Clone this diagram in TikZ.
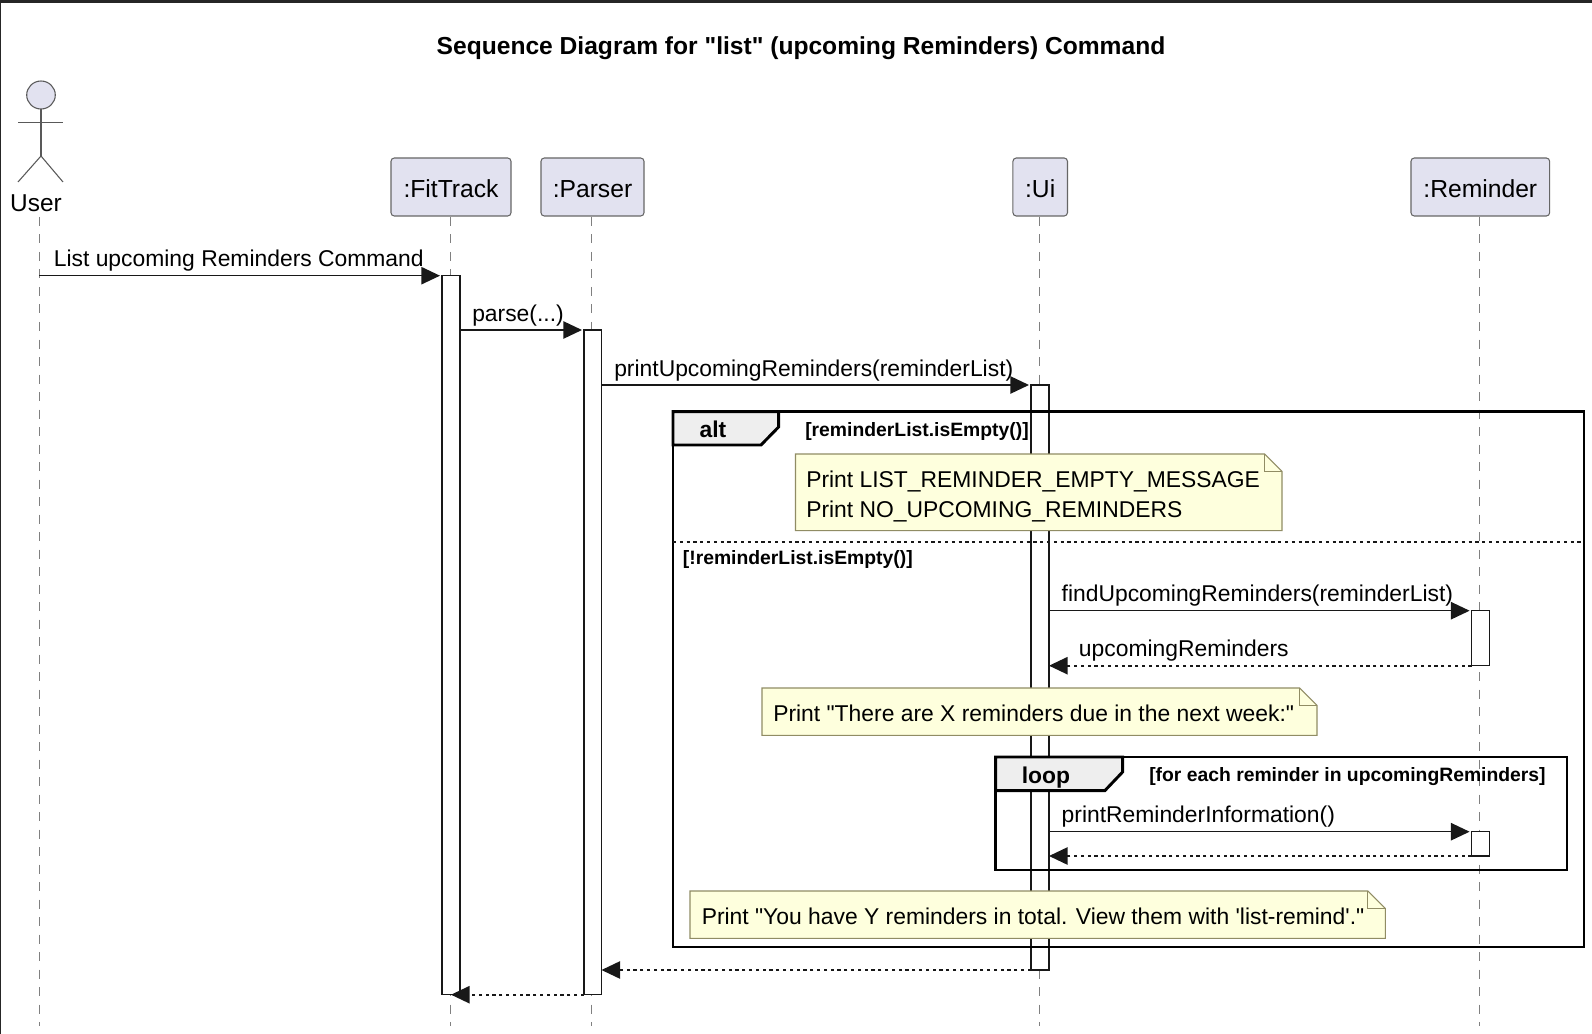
\documentclass[tikz,border=0pt]{standalone}
\usepackage{fontspec}
\defaultfontfeatures[\rmfamily]{}
\setmainfont{Liberation Sans}
\usetikzlibrary{arrows.meta,calc,fit,positioning}
\definecolor{partfill}{HTML}{E2E2F0}
\definecolor{notefill}{HTML}{FEFFDD}
\definecolor{inkdark}{HTML}{181818}
\definecolor{tabfill}{HTML}{EEEEEE}
\tikzset{participant/.style={
            draw=gray!80!black,
            fill=partfill,
            line width=0.8pt,
            rounded corners=2.5pt,
            inner sep=0pt,
            minimum height=43.5pt,
            text height=15.4pt,
            text depth=0pt,
            font=\fontsize{18.5}{18}\selectfont
        },
        lifeline/.style={
            draw=gray,
            line width=0.7pt,
            dash pattern=on 6.75pt off 6.375pt
        },
        activ/.style={
            draw=inkdark,
            fill=white,
            line width=1.1pt,
            inner sep=0pt,
            outer sep=0pt
        },
        msg/.style={
            draw=inkdark,
            line width=1.1pt,
            -{Triangle[length=14pt,width=13pt]},
            shorten >=1.5pt
        },
        reply/.style={
            msg,
            line width=1.3pt,
            shorten >=0pt,
            dash pattern=on 2.4pt off 2.7pt
        },
        label/.style={
            anchor=base west,
            inner sep=0pt,
            font=\fontsize{17.15}{18}\selectfont
        },
        guard/.style={
            anchor=base west,
            inner sep=0pt,
            font=\fontsize{14.5}{15.2}\selectfont\bfseries
        },
        tag/.style={
            anchor=base,
            inner sep=0pt,
            font=\fontsize{17.15}{18}\selectfont\bfseries
        },
        frame/.style={
            draw=black,
            line width=2.2pt,
            inner sep=0pt,
            outer sep=0pt
        },
        tab/.style={
            draw=black,
            fill=tabfill,
            line width=2.2pt
        },
        notebox/.style={
            draw=none,
            inner sep=0pt,
            outer sep=0pt
        },
        notepen/.style={
            draw=gray!70!olive,
            fill=notefill,
            line width=0.8pt
        },
        actor/.style={
            draw=gray!70!black,
            line width=0.8pt
        }
    }
% outline and fold of a note, read off its (empty) node
\newcommand{\notefold}[1]{
    \draw[notepen] (#1.south west) -- (#1.north west) -- ($(#1.north east)+(-17.5,0)$)
        -- ($(#1.north east)+(0,17.5)$) -- (#1.south east) -- cycle;
    \draw[notepen,fill=none] ($(#1.north east)+(-17.5,0)$) -- ($(#1.north east)+(-17.5,17.5)$)
        -- ($(#1.north east)+(0,17.5)$);
}
\begin{document}
\begin{tikzpicture}[x=0.75pt,y=-0.75pt]
    \useasboundingbox (0,0) rectangle (1592,1034);
    \fill[white] (0,0) rectangle (1592,1034);
    \fill[black!85] (0,0) rectangle (1592,3);
    \fill[black!85] (0,0) rectangle (1.2,1034);

    \node[anchor=base,inner sep=0pt,font=\fontsize{18.45}{18}\selectfont\bfseries] (title) at (801,54.3) {Sequence Diagram for "list" (upcoming Reminders) Command};

    % actor
    \draw[actor,fill=partfill] (41,95) ellipse [x radius=14.3, y radius=14];
    \draw[actor] (41,109) -- (41,156);
    \draw[actor] (18,122.5) -- (63,122.5);
    \draw[actor] (18,182) -- (41,156) -- (63,182);
    \node[label,anchor=base,font=\fontsize{18.3}{18}\selectfont] (user) at (36,212) {User};

    % participants
    \node[participant,minimum width=90pt] (fitTrack) at (451,187) {:FitTrack};
    \node[participant,minimum width=77.25pt] (parser) at (592.5,187) {:Parser};
    \node[participant,minimum width=40.9pt] (ui) at (1040.2,187) {:Ui};
    \node[participant,minimum width=104pt] (reminder) at (1480.3,187) {:Reminder};

    \coordinate (userTop) at (39,217);
    \draw[lifeline] (userTop) -- (39,1026);
    \draw[lifeline] (450,217) -- (450,1026);
    \draw[lifeline] (591.3,217) -- (591.3,1026);
    \draw[lifeline] (1039.4,217) -- (1039.4,1026);
    \draw[lifeline] (1479.8,217) -- (1479.8,1026);

    % activations
    \node[activ,fit={(442,275.7)(460,994.7)}] (actFit) {};
    \node[activ,fit={(584,330)(601.5,994.7)}] (actParser) {};
    \node[activ,fit={(1031,385)(1049,970)}] (actUi) {};
    \node[activ,fit={(1471.6,610.7)(1489.5,665.7)}] (actFind) {};
    \node[activ,fit={(1471.6,831.7)(1489.5,856)}] (actInfo) {};

    % alt
    \node[frame,fit={(673,411.7)(1584,947)}] (altFrame) {};
    \draw[tab] (altFrame.north west) -- (778.6,411.7) -- (778.6,427) -- (761,445) -- (673,445) -- cycle;
    \node[tag] (altTag) at (713,437.3) {alt};
    \node[guard] (altGuard) at (805,436.7) {[reminderList.isEmpty()]};
    \draw[inkdark,line width=1.3pt,dash pattern=on 2.4pt off 2.7pt] (altFrame.west |- 0,542.3) -- (altFrame.east |- 0,542.3);
    \node[guard] (elseGuard) at (682.6,564) {[!reminderList.isEmpty()]};

    \node[notebox,fit={(795.5,454)(1282,530.7)}] (noteEmpty) {};
    \notefold{noteEmpty}
    \node[label] (noteEmptyA) at (806,487.7) {Print LIST\_REMINDER\_EMPTY\_MESSAGE};
    \node[label] (noteEmptyB) at (806,517.7) {Print NO\_UPCOMING\_REMINDERS};

    \node[notebox,fit={(762,688)(1317,735.3)}] (noteCount) {};
    \notefold{noteCount}
    \node[label] (noteCountText) at (773,721.7) {Print "There are X reminders due in the next week:"};

    % loop
    \node[frame,fit={(995.6,757)(1567,870)}] (loopFrame) {};
    \draw[tab] (loopFrame.north west) -- (1122.6,757) -- (1122.6,772) -- (1104.8,790.7) -- (995.6,790.7) -- cycle;
    \node[tag] (loopTag) at (1046,783.3) {loop};
    \node[guard] (loopGuard) at (1149,781.7) {[for each reminder in upcomingReminders]};

    \node[notebox,fit={(690,891)(1385.4,938.3)}] (noteTotal) {};
    \notefold{noteTotal}
    \node[label] (noteTotalText) at (701.5,924) {Print "You have Y reminders in total. View them with 'list-remind'."};

    % messages
    \draw[msg] (userTop |- actFit.north west) -- (actFit.north west);
    \node[label] (lblList) at (53.6,266.7) {List upcoming Reminders Command};
    \draw[msg] (actFit.east |- actParser.north) -- (actParser.north west);
    \node[label] (lblParse) at (472,321) {parse(...)};
    \draw[msg] (actParser.east |- actUi.north) -- (actUi.north west);
    \node[label] (lblPrint) at (614,376) {printUpcomingReminders(reminderList)};
    \draw[msg] (actUi.east |- actFind.north) -- (actFind.north west);
    \node[label] (lblFind) at (1061.4,601.7) {findUpcomingReminders(reminderList)};
    \draw[reply] (actFind.south west) -- (actUi.east |- actFind.south);
    \node[label] (lblUpcoming) at (1078.7,656.7) {upcomingReminders};
    \draw[msg] (actUi.east |- actInfo.north) -- (actInfo.north west);
    \node[label] (lblInfo) at (1061.4,822.7) {printReminderInformation()};
    \draw[reply] (actInfo.south west) -- (actUi.east |- actInfo.south);
    \draw[reply] (actUi.south west) -- (actParser.east |- actUi.south);
    \draw[reply] (actParser.south west) -- (actFit.south);
\end{tikzpicture}
\end{document}
